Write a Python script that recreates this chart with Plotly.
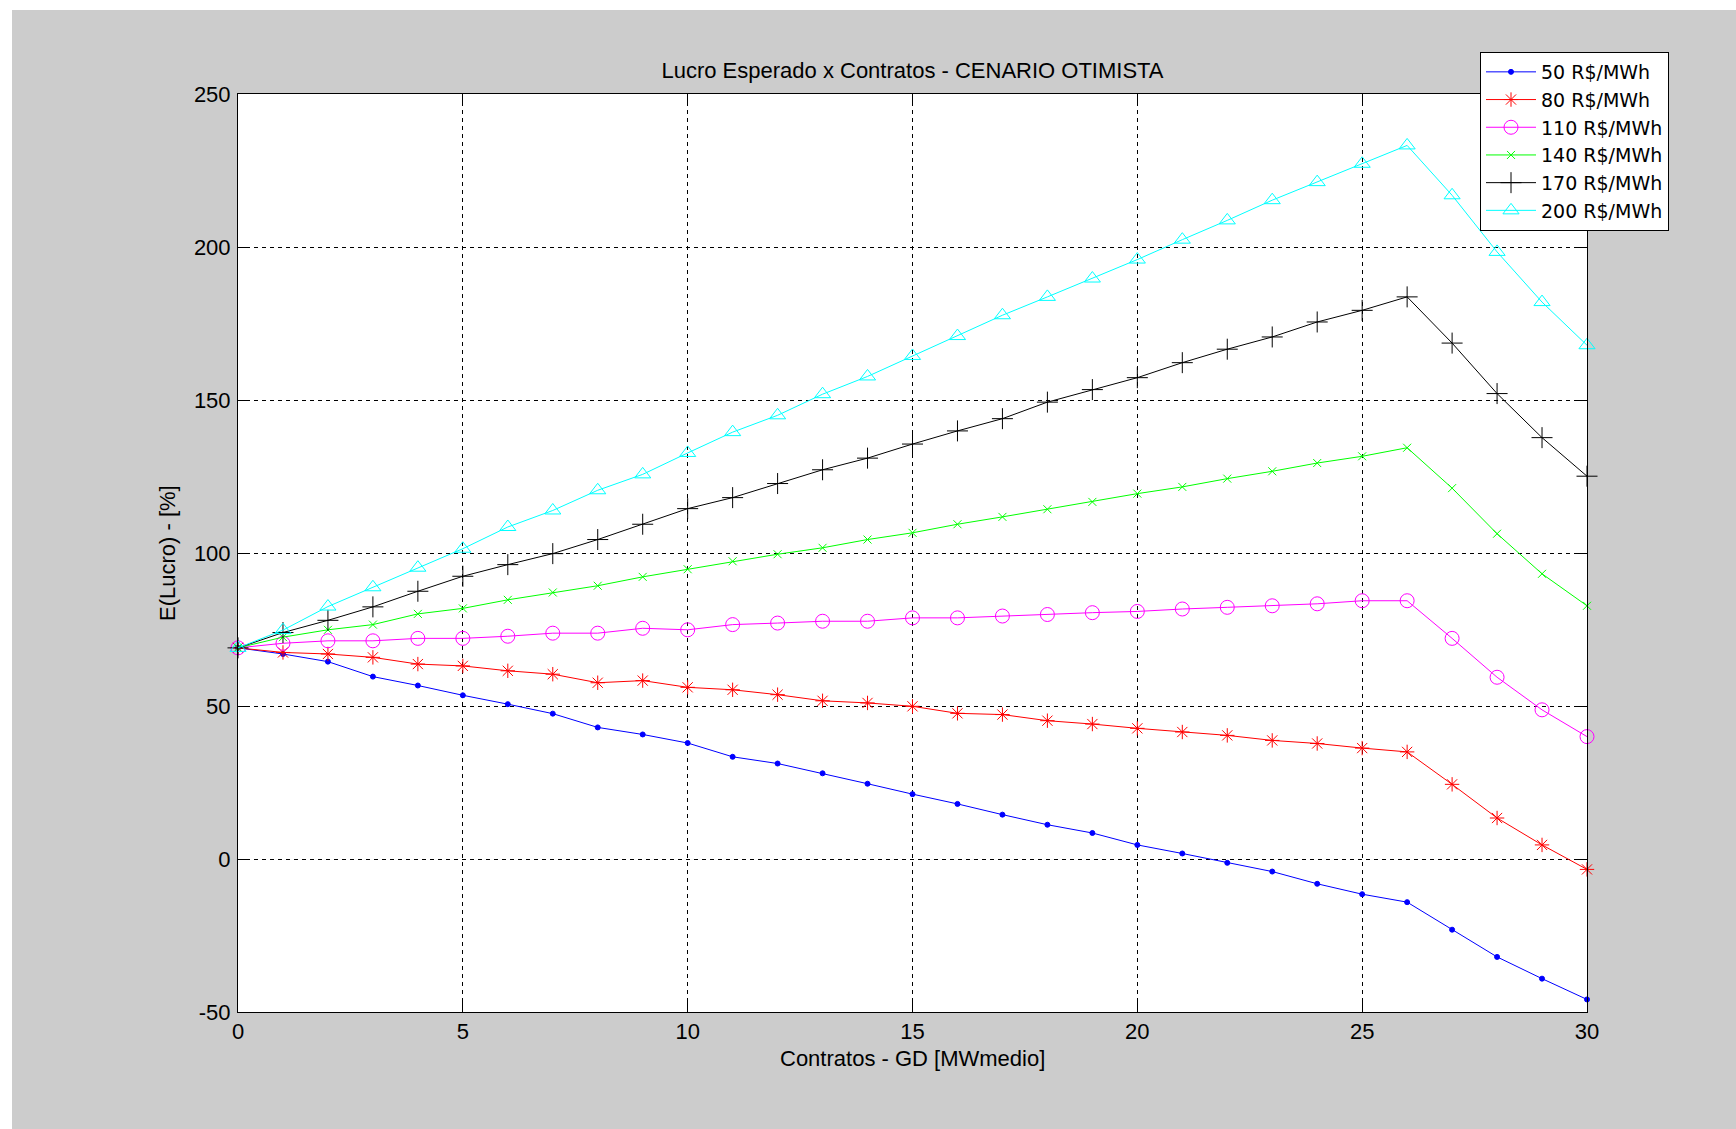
import plotly.graph_objects as go

# ---- data ----
contratos = list(range(0, 31))

lucro_50 = [69, 67.0, 64.5, 59.6, 56.7, 53.5, 50.6, 47.5, 43.0, 40.7, 37.9,
            33.4, 31.2, 28.0, 24.6, 21.2, 18.0, 14.5, 11.2, 8.5, 4.6, 1.8,
            -1.25, -4.1, -8.1, -11.5, -14.1, -23.1, -32.0, -39.1, -45.9]
lucro_80 = [69, 67.5, 67.0, 65.9, 63.7, 63.1, 61.5, 60.4, 57.6, 58.3, 56.1,
            55.3, 53.7, 51.7, 51.0, 49.9, 47.6, 47.2, 45.2, 44.1, 42.7, 41.5,
            40.4, 38.75, 37.75, 36.25, 35.0, 24.4, 13.4, 4.6, -3.4]
lucro_110 = [69, 70.5, 71.3, 71.3, 72.1, 72.1, 72.8, 73.8, 73.8, 75.4, 74.9,
             76.6, 77.1, 77.7, 77.7, 78.8, 78.8, 79.4, 79.9, 80.5, 80.9, 81.7,
             82.25, 82.75, 83.4, 84.4, 84.4, 72.1, 59.4, 48.75, 40.0]
lucro_140 = [69, 72.5, 74.9, 76.6, 80.1, 81.9, 84.7, 87.1, 89.3, 92.2, 94.7,
             97.3, 99.6, 101.7, 104.4, 106.6, 109.4, 111.8, 114.3, 116.7, 119.4, 121.6,
             124.3, 126.7, 129.4, 131.6, 134.4, 121.2, 106.3, 93.2, 82.75]
lucro_170 = [69, 74.0, 78.0, 82.4, 87.5, 92.4, 96.2, 99.8, 104.4, 109.4, 114.5,
             118.1, 122.7, 127.2, 131.0, 135.6, 139.9, 143.9, 149.3, 153.4, 157.3, 162.2,
             166.6, 170.6, 175.5, 179.3, 183.7, 168.6, 152.1, 137.7, 125.1]
lucro_200 = [69, 74.8, 82.5, 88.8, 95.2, 101.4, 108.5, 113.9, 120.5, 125.7, 132.7,
             139.5, 145.0, 151.9, 157.7, 164.4, 170.9, 177.7, 183.7, 189.7, 195.9, 202.4,
             208.7, 215.3, 221.2, 227.2, 233.2, 216.9, 198.4, 182.0, 167.9]

series_names = ["50 R$/MWh", "80 R$/MWh", "110 R$/MWh", "140 R$/MWh", "170 R$/MWh", "200 R$/MWh"]
series_values = [lucro_50, lucro_80, lucro_110, lucro_140, lucro_170, lucro_200]

x_ticks = [0, 5, 10, 15, 20, 25, 30]
x_ticklabels = ["0", "5", "10", "15", "20", "25", "30"]
y_ticks = [-50, 0, 50, 100, 150, 200, 250]
y_ticklabels = ["-50", "0", "50", "100", "150", "200", "250"]

title_text = "Lucro Esperado x Contratos - CENARIO OTIMISTA"
x_title = "Contratos - GD [MWmedio]"
y_title = "E(Lucro) - [%]"

# ---- styles ----
colors = ["#0000ff", "#ff0000", "#ff00ff", "#00ff00", "#000000", "#00ffff"]
symbols = ["circle", "asterisk-open", "circle-open", "x-thin-open", "cross-thin-open", "triangle-up-open"]
sizes = [5, 12, 14, 8, 15, 14]

FONT = "Liberation Sans, Arial, Helvetica, sans-serif"
LFONT = "DejaVu Sans, Liberation Sans, sans-serif"
W, H = 1736, 1129
ML, MR, MT, MB = 238, 149, 94, 117
PW, PH = W - ML - MR, H - MT - MB

fig = go.Figure()
for name, vals, c, s, sz in zip(series_names, series_values, colors, symbols, sizes):
    fig.add_trace(go.Scatter(
        x=contratos, y=vals, name=name, mode="lines+markers",
        line=dict(color=c, width=1),
        marker=dict(symbol=s, size=sz, color=c, line=dict(color=c, width=1)),
        cliponaxis=False,
    ))

axis_common = dict(
    showline=True, linecolor="black", linewidth=1, mirror="ticks",
    ticks="inside", ticklen=10, tickwidth=1, tickcolor="black",
    showgrid=True, gridcolor="black", gridwidth=1, griddash="4px,4px",
    zeroline=False, tickfont=dict(family=FONT, size=22, color="black"),
)

fig.update_layout(
    width=W, height=H,
    margin=dict(l=ML, r=MR, t=MT, b=MB, pad=0),
    paper_bgcolor="#cccccc", plot_bgcolor="white",
    font=dict(family=FONT, size=22, color="black"),
    title=dict(text=title_text, x=0.5, xref="paper", xanchor="center",
               y=1 - 70 / H, yref="container", yanchor="middle",
               font=dict(family=FONT, size=22, color="black")),
    xaxis=dict(range=[0, 30], tickvals=x_ticks, ticktext=x_ticklabels,
               ticklabelstandoff=0, **axis_common),
    yaxis=dict(range=[-50, 250], tickvals=y_ticks, ticktext=y_ticklabels,
               ticklabelstandoff=2, **axis_common),
    showlegend=True,
    legend=dict(x=(1480 - ML) / PW, y=(H - MB - 52) / PH, xanchor="left", yanchor="top",
                bgcolor="white", bordercolor="black", borderwidth=1,
                font=dict(family=LFONT, size=19, color="black"),
                itemwidth=50, tracegroupgap=0),
    shapes=[
        dict(type="rect", xref="paper", yref="paper", layer="below",
             x0=-ML / PW - 0.01, x1=(12 - ML) / PW, y0=-MB / PH - 0.01, y1=(H - MB) / PH + 0.05,
             fillcolor="white", line=dict(width=0)),
        dict(type="rect", xref="paper", yref="paper", layer="below",
             x0=-ML / PW - 0.01, x1=1 + MR / PW + 0.01, y0=(H - MB - 10) / PH, y1=(H - MB) / PH + 0.05,
             fillcolor="white", line=dict(width=0)),
    ],
    annotations=[
        dict(text=x_title, xref="paper", yref="paper", x=0.5, y=-(1058 - (H - MB)) / PH,
             xanchor="center", yanchor="middle", showarrow=False,
             font=dict(family=FONT, size=22, color="black")),
        dict(text=y_title, xref="paper", yref="paper", x=(167 - ML) / PW, y=0.5,
             xanchor="center", yanchor="middle", showarrow=False, textangle=-90,
             font=dict(family=FONT, size=22, color="black")),
    ],
)

fig.write_html("out.html", config={"displayModeBar": False},
               post_script="document.body.style.margin='0px';")
